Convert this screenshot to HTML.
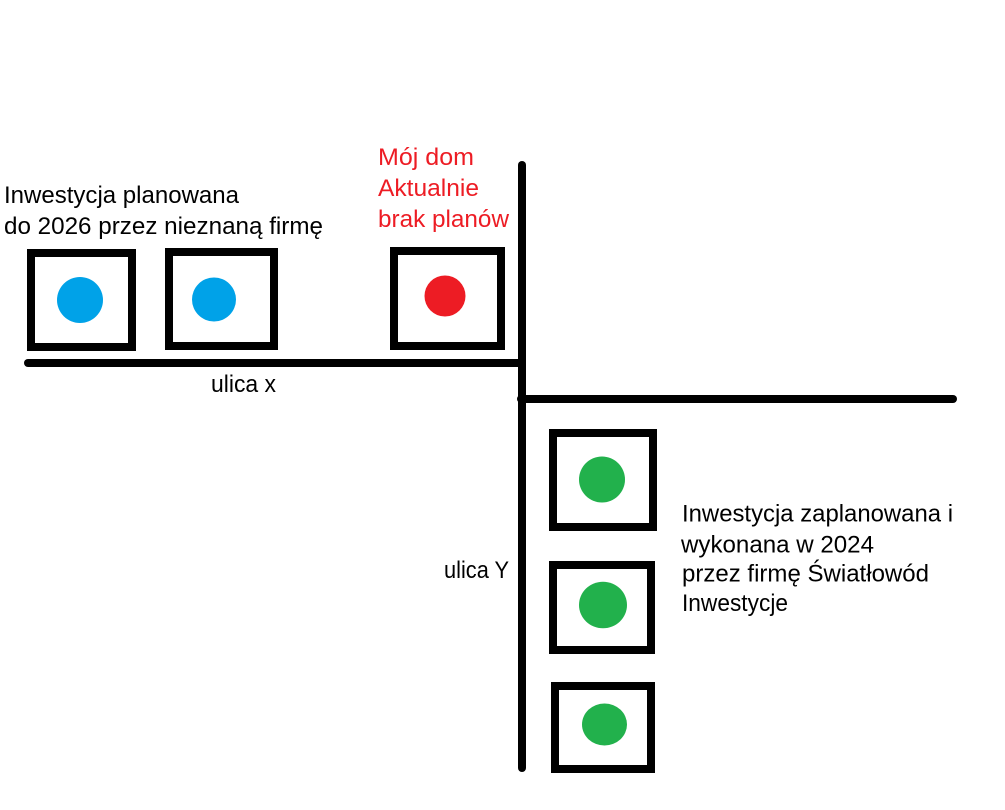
<!DOCTYPE html>
<html>
<head>
<meta charset="utf-8">
<style>
  html, body { margin: 0; padding: 0; background: #ffffff; }
  body { width: 1005px; height: 810px; overflow: hidden; }
  svg { display: block; }
  text { font-family: "Liberation Sans", "DejaVu Sans", sans-serif; font-size: 24px; }
</style>
</head>
<body>
<svg width="1005" height="810" viewBox="0 0 1005 810" xmlns="http://www.w3.org/2000/svg">
  <rect x="0" y="0" width="1005" height="810" fill="#ffffff"/>

  <!-- roads -->
  <line x1="28" y1="363" x2="522" y2="363" stroke="#000" stroke-width="8" stroke-linecap="round"/>
  <line x1="522" y1="165" x2="522" y2="768" stroke="#000" stroke-width="8" stroke-linecap="round"/>
  <line x1="521" y1="399" x2="953" y2="399" stroke="#000" stroke-width="8" stroke-linecap="round"/>

  <!-- houses on ulica x -->
  <rect x="31" y="253" width="101" height="94" fill="none" stroke="#000" stroke-width="8"/>
  <circle cx="80" cy="300" r="23" fill="#00A2E8"/>

  <rect x="169" y="252" width="105" height="94" fill="none" stroke="#000" stroke-width="8"/>
  <circle cx="214" cy="299.5" r="22" fill="#00A2E8"/>

  <rect x="394" y="251" width="107" height="95" fill="none" stroke="#000" stroke-width="8"/>
  <circle cx="445" cy="296" r="20.5" fill="#ED1C24"/>

  <!-- houses on ulica Y -->
  <rect x="553" y="433" width="100" height="94" fill="none" stroke="#000" stroke-width="8"/>
  <circle cx="602" cy="479.5" r="23" fill="#22B14C"/>

  <rect x="553" y="565" width="98" height="85" fill="none" stroke="#000" stroke-width="8"/>
  <ellipse cx="603" cy="605" rx="24" ry="23.3" fill="#22B14C"/>

  <rect x="555" y="686" width="96" height="83" fill="none" stroke="#000" stroke-width="8"/>
  <ellipse cx="604.5" cy="724.5" rx="22.5" ry="21" fill="#22B14C"/>

  <!-- labels -->
  <text x="4" y="203" fill="#000" textLength="235" lengthAdjust="spacingAndGlyphs">Inwestycja planowana</text>
  <text x="4" y="234" fill="#000" textLength="319" lengthAdjust="spacingAndGlyphs">do 2026 przez nieznaną firmę</text>

  <text x="378" y="165" fill="#ED1C24" textLength="96" lengthAdjust="spacingAndGlyphs">Mój dom</text>
  <text x="378" y="196" fill="#ED1C24" textLength="101" lengthAdjust="spacingAndGlyphs">Aktualnie</text>
  <text x="378" y="227" fill="#ED1C24" textLength="131" lengthAdjust="spacingAndGlyphs">brak planów</text>

  <text x="211" y="392" fill="#000" textLength="65" lengthAdjust="spacingAndGlyphs">ulica x</text>
  <text x="444" y="578" fill="#000" textLength="65" lengthAdjust="spacingAndGlyphs">ulica Y</text>

  <text x="682" y="521.5" fill="#000" textLength="271" lengthAdjust="spacingAndGlyphs">Inwestycja zaplanowana i</text>
  <text x="681" y="552.5" fill="#000" textLength="193" lengthAdjust="spacingAndGlyphs">wykonana w 2024</text>
  <text x="682" y="581.5" fill="#000" textLength="247" lengthAdjust="spacingAndGlyphs">przez firmę Światłowód</text>
  <text x="682" y="611" fill="#000" textLength="106" lengthAdjust="spacingAndGlyphs">Inwestycje</text>
</svg>
</body>
</html>
